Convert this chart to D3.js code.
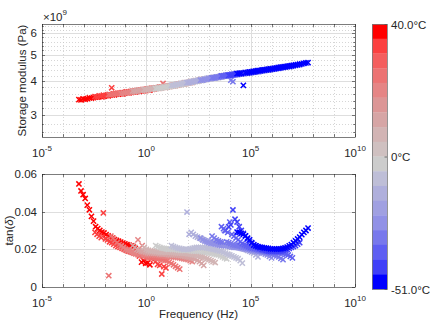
<!DOCTYPE html>
<html><head><meta charset="utf-8">
<script src="https://cdn.jsdelivr.net/npm/d3@7"></script>
<style>
body{margin:0;background:#fff}
svg{display:block}
text{font-family:"Liberation Sans",Arial,Helvetica,sans-serif;fill:#262626}
</style>
</head><body><svg id="c" width="433" height="330"></svg>
<script>
// ---------------- DATA ----------------
// temperatures of each frequency sweep (°C)
const temps = [40, 33, 26, 19, 12, 5, -2, -9, -16, -23, -30, -37, -44, -51];
// horizontal shift (log10 aT) of each sweep
const logShift = [-1.53, -0.76, -0.1, 0.5, 1.05, 1.6, 2.15, 2.9, 3.65, 4.3, 4.85, 5.3, 5.65, 6.05];
// measured frequencies of one sweep (log10 Hz)
const baseLogFreq = [-1.7,-1.6,-1.5,-1.4,-1.3,-1.2,-1.1,-1.0,-0.9,-0.8,-0.7,-0.6,-0.5,-0.4,-0.3,-0.2,-0.1,0.0,
                     0.1,0.2,0.3,0.4,0.5,0.6,0.7,0.8,0.9,1.0,1.1,1.2,1.3,1.4,1.5,1.6,1.7];

// storage modulus (x 1e9 Pa), one array per temperature
const E_40  = [3.43,3.42,3.45,3.44,3.46,3.48,3.47,3.49,3.50,3.50,3.52,3.51,3.53,3.55,3.54,3.56,3.57,3.57,3.59,3.59,3.61,3.60,3.62,3.64,3.63,3.65,3.66,3.66,3.68,3.68,3.70,3.70,3.71,3.73,3.72];
const E_33  = [3.52,3.51,3.54,3.54,3.56,3.55,3.57,3.58,3.79,3.60,3.60,3.62,3.62,3.64,3.64,3.66,3.66,3.67,3.69,3.68,3.70,3.71,3.71,3.73,3.73,3.75,3.75,3.77,3.77,3.79,3.79,3.81,3.81,3.83,3.83];
const E_26  = [3.58,3.57,3.59,3.60,3.60,3.62,3.62,3.63,3.65,3.64,3.66,3.67,3.67,3.69,3.69,3.71,3.71,3.72,3.74,3.73,3.75,3.77,3.76,3.78,3.79,3.80,3.93,3.82,3.83,3.85,3.85,3.87,3.88,3.89,3.91];
const E_19  = [3.60,3.62,3.62,3.64,3.65,3.65,3.67,3.67,3.68,3.70,3.70,3.71,3.71,3.73,3.74,3.74,3.76,3.77,3.77,3.79,3.80,3.80,3.82,3.83,3.84,3.86,3.86,3.88,3.89,3.91,3.91,3.93,3.95,3.96,3.97];
const E_12  = [3.69,3.68,3.70,3.72,3.71,3.73,3.74,3.74,3.76,3.77,3.77,3.79,3.79,3.81,3.81,3.83,3.84,3.85,3.86,3.88,3.88,3.90,3.91,3.93,3.93,3.96,3.96,3.98,4.00,4.00,4.03,4.03,4.05,4.07,4.08];
const E_5   = [3.73,3.72,3.74,3.76,3.75,3.78,3.77,3.80,3.79,3.81,3.83,3.82,3.85,3.85,3.87,3.87,3.90,3.90,3.92,3.93,3.95,3.95,3.98,3.98,4.00,4.02,4.02,4.05,4.05,4.07,4.09,4.10,4.11,4.13,4.13];
const E_m2  = [3.76,3.78,3.77,3.79,3.81,3.80,3.83,3.83,3.85,3.85,3.88,3.88,3.90,3.91,3.92,3.95,3.95,3.97,3.98,4.00,4.00,4.03,4.03,4.06,4.06,4.08,4.09,4.11,4.11,4.13,4.13,4.16,4.16,4.18,4.18];
const E_m9  = [3.87,3.87,3.89,3.91,3.91,3.93,3.95,3.95,3.97,3.99,3.99,4.02,4.02,4.04,4.06,4.06,4.08,4.10,4.11,4.12,4.14,4.14,4.16,4.17,4.18,4.20,4.20,4.22,4.23,4.24,4.25,4.26,4.27,4.28,4.29];
const E_m16 = [3.96,3.96,3.98,4.00,4.00,4.03,4.03,4.06,4.06,4.08,4.10,4.10,4.12,4.13,4.14,4.16,4.16,4.18,4.19,4.20,4.22,4.22,4.24,4.24,4.26,4.26,4.28,4.28,4.30,4.30,4.32,4.32,4.34,4.35,4.36];
const E_m23 = [4.04,4.04,4.07,4.07,4.10,4.10,4.12,4.12,4.14,4.15,4.16,4.18,4.18,4.20,4.21,4.22,4.23,4.24,4.25,4.26,4.27,4.28,4.29,4.30,4.31,4.33,4.33,4.35,4.35,4.37,4.38,4.39,4.41,4.41,4.43];
const E_m30 = [4.12,4.13,4.15,4.15,4.17,4.18,4.19,4.21,4.21,4.04,3.99,4.25,4.25,4.27,4.27,4.29,4.29,4.31,4.31,4.33,4.34,4.35,4.37,4.37,4.39,4.40,4.41,4.43,4.43,4.45,4.46,4.47,4.49,4.49,4.51];
const E_m37 = [4.19,4.19,4.21,4.22,4.23,4.25,4.25,4.27,4.27,4.29,4.29,4.31,4.31,4.33,4.33,4.35,4.35,4.37,4.38,4.39,4.41,4.41,4.43,4.44,4.45,4.47,4.47,4.49,4.50,4.51,4.53,4.53,4.55,4.56,4.57];
const E_m44 = [4.21,4.22,4.23,4.24,4.25,4.26,4.27,4.28,4.29,4.30,4.31,4.32,4.33,4.35,4.35,4.37,4.38,4.39,4.41,4.41,4.43,4.44,4.45,4.47,4.47,4.49,4.50,4.51,4.53,4.53,4.55,4.57,4.58,4.60,4.61];
const E_m51 = [4.27,4.28,4.28,3.87,4.31,4.31,4.33,4.34,4.35,4.36,4.38,4.38,4.40,4.41,4.42,4.43,4.45,4.45,4.47,4.48,4.49,4.51,4.51,4.53,4.54,4.55,4.57,4.58,4.60,4.61,4.63,4.64,4.66,4.68,4.69];

// tan(delta), one array per temperature
const tan_40  = [0.0547,0.051,0.049,0.047,0.0435,0.041,0.0375,0.035,0.032,0.031,0.030,0.0292,0.0287,0.0278,0.0271,0.0265,0.026,0.0252,0.0247,0.0243,0.0238,0.0233,0.0229,0.0225,0.0222,0.0218,0.0212,0.0205,0.019,0.0165,0.0132,0.014,0.0125,0.0128,0.0118];
const tan_33  = [0.029,0.028,0.027,0.0262,0.0393,0.0255,0.025,0.024,0.0235,0.0228,0.022,0.0215,0.021,0.0205,0.020,0.0195,0.019,0.0188,0.0185,0.0182,0.018,0.0178,0.0175,0.0172,0.017,0.0165,0.016,0.0152,0.0145,0.0135,0.012,0.0115,0.0069,0.0108,0.0101];
const tan_26  = [0.006,0.027,0.026,0.0248,0.0235,0.0225,0.0215,0.0208,0.020,0.0195,0.019,0.0185,0.018,0.0176,0.0172,0.0168,0.0165,0.0162,0.016,0.0159,0.0158,0.0156,0.0155,0.0152,0.015,0.0148,0.0145,0.0142,0.014,0.0132,0.0125,0.0118,0.011,0.0102,0.0095];
const tan_19  = [0.022,0.021,0.020,0.0195,0.019,0.0185,0.018,0.0178,0.025,0.0176,0.022,0.0172,0.017,0.0173,0.0172,0.0171,0.017,0.0169,0.0168,0.0166,0.0165,0.0164,0.0163,0.0161,0.016,0.0159,0.0158,0.0156,0.0155,0.0152,0.015,0.0148,0.0145,0.014,0.0135];
const tan_12  = [0.022,0.021,0.020,0.0195,0.019,0.0188,0.0185,0.0182,0.018,0.0181,0.018,0.0179,0.0178,0.0176,0.0175,0.0176,0.0175,0.0172,0.017,0.0171,0.017,0.0169,0.0168,0.0166,0.0165,0.0162,0.016,0.0158,0.0155,0.0153,0.015,0.0142,0.0135,0.0125,0.0115];
const tan_5   = [0.021,0.020,0.0195,0.0192,0.019,0.0189,0.0188,0.0186,0.0185,0.0186,0.0185,0.0184,0.0185,0.0184,0.0183,0.0181,0.018,0.0181,0.018,0.0179,0.0178,0.0176,0.0175,0.0172,0.017,0.0168,0.0165,0.0162,0.016,0.0155,0.015,0.0145,0.014,0.0135,0.013];
const tan_m2  = [0.022,0.0215,0.021,0.0207,0.0205,0.0202,0.020,0.0201,0.020,0.0199,0.0198,0.0196,0.0195,0.0196,0.0195,0.0194,0.0195,0.0192,0.019,0.0191,0.019,0.0189,0.0188,0.0186,0.0185,0.0182,0.018,0.0178,0.0175,0.0172,0.017,0.0165,0.016,0.0155,0.015];
const tan_m9  = [0.022,0.0215,0.021,0.0207,0.0205,0.0202,0.020,0.0201,0.020,0.0203,0.0205,0.0208,0.021,0.0211,0.021,0.0209,0.021,0.0208,0.0205,0.0203,0.020,0.0198,0.0195,0.0192,0.019,0.0185,0.018,0.0175,0.017,0.0165,0.016,0.0155,0.015,0.014,0.0127];
const tan_m16 = [0.0398,0.028,0.029,0.028,0.027,0.0265,0.026,0.0255,0.025,0.0245,0.024,0.0238,0.0235,0.0232,0.023,0.0228,0.0225,0.0222,0.022,0.0221,0.022,0.0218,0.0215,0.0212,0.021,0.0208,0.0205,0.0202,0.020,0.0195,0.019,0.0185,0.018,0.017,0.016];
const tan_m23 = [0.026,0.025,0.0245,0.024,0.0235,0.0232,0.023,0.0228,0.0225,0.0222,0.022,0.0221,0.022,0.0218,0.0215,0.0212,0.021,0.0211,0.021,0.0208,0.0205,0.0202,0.020,0.0198,0.0195,0.0192,0.019,0.0188,0.0185,0.0182,0.018,0.0175,0.017,0.0162,0.0155];
const tan_m30 = [0.027,0.026,0.025,0.0245,0.024,0.0238,0.030,0.024,0.0235,0.023,0.0225,0.0222,0.022,0.0218,0.0215,0.0212,0.021,0.0208,0.0205,0.0202,0.020,0.0198,0.0195,0.0192,0.019,0.0188,0.0185,0.0182,0.018,0.0175,0.017,0.0165,0.016,0.0152,0.0145];
const tan_m37 = [0.032,0.031,0.030,0.029,0.0345,0.028,0.027,0.026,0.025,0.024,0.023,0.0225,0.022,0.0215,0.021,0.0208,0.0205,0.0202,0.020,0.0198,0.0195,0.0192,0.019,0.0188,0.0185,0.0186,0.0185,0.0184,0.0185,0.0182,0.018,0.0175,0.017,0.0162,0.0155];
const tan_m44 = [0.0319,0.033,0.0409,0.036,0.0345,0.032,0.030,0.0285,0.027,0.0255,0.024,0.023,0.0225,0.0218,0.021,0.0205,0.020,0.0198,0.0195,0.0192,0.019,0.019,0.019,0.019,0.019,0.0192,0.0195,0.0198,0.020,0.0205,0.021,0.0215,0.022,0.0228,0.0235];
const tan_m51 = [0.0292,0.029,0.0285,0.028,0.0272,0.026,0.025,0.0235,0.0222,0.0218,0.0215,0.0212,0.021,0.0208,0.0207,0.0205,0.0203,0.0202,0.0202,0.0201,0.0202,0.0203,0.0205,0.0208,0.0212,0.0218,0.0225,0.0235,0.0245,0.0255,0.0265,0.0278,0.029,0.030,0.0313];

// axis ticks / labels
const xLabelExponents = [-5, 0, 5, 10];
const yTopTicks = [3e9, 4e9, 5e9, 6e9];
const yTopTickLabels = ["3", "4", "5", "6"];
const yBotTicks = [0, 0.02, 0.04, 0.06];
const yBotTickLabels = ["0", "0.02", "0.04", "0.06"];
// colormap (top = hot -> bottom = cold)
const colorbarColors = ["#ff0000","#fb4040","#f45e5e","#ec7373","#e58585","#dc9696","#d6a5a5","#d2b4b4","#cfc0c0",
                        "#cccccc","#bebed7","#afafdc","#a0a0e1","#9191e6","#7878ec","#5f5ff2","#4040f8","#0000ff"];
const colorbarLabels = ["40.0°C", "0°C", "-51.0°C"];
const tempMin = -51, tempMax = 40;

const storageSeries = [E_40,E_33,E_26,E_19,E_12,E_5,E_m2,E_m9,E_m16,E_m23,E_m30,E_m37,E_m44,E_m51];
const tanSeries = [tan_40,tan_33,tan_26,tan_19,tan_12,tan_5,tan_m2,tan_m9,tan_m16,tan_m23,tan_m30,tan_m37,tan_m44,tan_m51];

// ---------------- LAYOUT ----------------
const svg = d3.select('#c');
const X0 = 42, X1 = 355;
const P1 = {t: 24, b: 137}, P2 = {t: 174, b: 287};
const x = d3.scaleLog().domain([1e-5, 1e10]).range([X0, X1]);
const yTop = d3.scaleLog().domain([2.5e9, 6.5e9]).range([P1.b, P1.t]);
const yBot = d3.scaleLinear().domain([0, 0.06]).range([P2.b, P2.t]);

const hotScale = d3.scaleQuantize().domain([0, tempMax]).range(colorbarColors.slice(0, 9).reverse());
const coldScale = d3.scaleQuantize().domain([tempMin, 0]).range(colorbarColors.slice(9).reverse());
const colorOf = t => t >= 0 ? hotScale(t) : coldScale(t);

const gridMajor = "#dedede", gridMinor = "#c4c4c4", axisCol = "#262626";
const decades = d3.range(-5, 11);

function gridLines(g, y, top, bot, yMajor, yMinor) {
  decades.forEach(e => {
    const px = Math.round(x(Math.pow(10, e))) + 0.5;
    const major = xLabelExponents.includes(e);
    g.append("line").attr("x1", px).attr("x2", px).attr("y1", top).attr("y2", bot)
      .attr("stroke", major ? gridMajor : gridMinor).attr("stroke-width", major ? 1 : 0.7)
      .attr("stroke-dasharray", major ? null : "1,2");
  });
  yMinor.forEach(v => {
    const py = Math.round(y(v)) + 0.5;
    g.append("line").attr("x1", X0).attr("x2", X1).attr("y1", py).attr("y2", py)
      .attr("stroke", gridMinor).attr("stroke-width", 0.7).attr("stroke-dasharray", "1,2");
  });
  yMajor.forEach(v => {
    const py = Math.round(y(v)) + 0.5;
    g.append("line").attr("x1", X0).attr("x2", X1).attr("y1", py).attr("y2", py)
      .attr("stroke", gridMajor).attr("stroke-width", 1);
  });
}

function frameAndTicks(g, y, top, bot, yMajor, yMinor) {
  g.append("rect").attr("x", X0 + 0.5).attr("y", top + 0.5).attr("width", X1 - X0).attr("height", bot - top)
    .attr("fill", "none").attr("stroke", axisCol).attr("stroke-width", 0.6);
  decades.forEach(e => {
    const px = Math.round(x(Math.pow(10, e))) + 0.5;
    g.append("line").attr("x1", px).attr("x2", px).attr("y1", bot).attr("y2", bot - 3).attr("stroke", axisCol).attr("stroke-width", 0.6);
    g.append("line").attr("x1", px).attr("x2", px).attr("y1", top).attr("y2", top + 3).attr("stroke", axisCol).attr("stroke-width", 0.6);
  });
  yMajor.forEach(v => {
    const py = Math.round(y(v)) + 0.5;
    g.append("line").attr("x1", X0).attr("x2", X0 + 3).attr("y1", py).attr("y2", py).attr("stroke", axisCol).attr("stroke-width", 0.6);
    g.append("line").attr("x1", X1).attr("x2", X1 - 3).attr("y1", py).attr("y2", py).attr("stroke", axisCol).attr("stroke-width", 0.6);
  });
  yMinor.forEach(v => {
    const py = Math.round(y(v)) + 0.5;
    g.append("line").attr("x1", X0).attr("x2", X0 + 1.8).attr("y1", py).attr("y2", py).attr("stroke", axisCol).attr("stroke-width", 0.6);
    g.append("line").attr("x1", X1).attr("x2", X1 - 1.8).attr("y1", py).attr("y2", py).attr("stroke", axisCol).attr("stroke-width", 0.6);
  });
  xLabelExponents.forEach(e => {
    const t = g.append("text").attr("x", x(Math.pow(10, e))).attr("y", bot + 20)
      .attr("text-anchor", "middle").attr("font-size", 11.5);
    t.append("tspan").text("10");
    t.append("tspan").text(String(e)).attr("font-size", 8).attr("dy", -6);
  });
}

function drawPoints(g, y, seriesVals) {
  const pts = [];
  temps.forEach((T, i) => {
    baseLogFreq.forEach((lf, j) => {
      pts.push({f: Math.pow(10, lf + logShift[i]), v: seriesVals[i][j], c: colorOf(T)});
    });
  });
  const r = 2.6;
  g.selectAll("path.pt").data(pts).join("path").attr("class", "pt")
    .attr("d", `M${-r},${-r}L${r},${r}M${-r},${r}L${r},${-r}`)
    .attr("transform", d => `translate(${x(d.f)},${y(d.v)})`)
    .attr("stroke", d => d.c).attr("stroke-width", 1.5).attr("fill", "none");
}

// ---- top panel ----
const topMinor = d3.range(26, 66, 2).map(v => v * 1e8).filter(v => v % 1e9 !== 0);
const g1 = svg.append("g");
gridLines(g1, yTop, P1.t, P1.b, yTopTicks, topMinor);
drawPoints(g1.append("g"), v => yTop(v * 1e9), storageSeries);
frameAndTicks(g1, yTop, P1.t, P1.b, yTopTicks, topMinor);
yTopTicks.forEach((v, i) => {
  g1.append("text").attr("x", 37).attr("y", yTop(v) + 4).attr("text-anchor", "end").attr("font-size", 11.5).text(yTopTickLabels[i]);
});
const ex = g1.append("text").attr("x", 43).attr("y", 20.5).attr("font-size", 11.5);
ex.append("tspan").text("×10");
ex.append("tspan").text("9").attr("font-size", 8).attr("dy", -6);
g1.append("text").attr("transform", `translate(25.5,${(P1.t + P1.b) / 2}) rotate(-90)`)
  .attr("text-anchor", "middle").attr("font-size", 11.5).text("Storage modulus (Pa)");

// ---- bottom panel ----
const g2 = svg.append("g");
gridLines(g2, yBot, P2.t, P2.b, [0.02, 0.04], []);
drawPoints(g2.append("g"), yBot, tanSeries);
frameAndTicks(g2, yBot, P2.t, P2.b, yBotTicks, []);
yBotTicks.forEach((v, i) => {
  g2.append("text").attr("x", 37).attr("y", yBot(v) + 4).attr("text-anchor", "end").attr("font-size", 11.5).text(yBotTickLabels[i]);
});
const tl = g2.append("text").attr("transform", `translate(12.5,${(P2.t + P2.b) / 2}) rotate(-90)`)
  .attr("text-anchor", "middle").attr("font-size", 11.5);
tl.append("tspan").text("tan(");
tl.append("tspan").text("δ").attr("font-style", "italic");
tl.append("tspan").text(")");
g2.append("text").attr("x", (X0 + X1) / 2).attr("y", 318).attr("text-anchor", "middle").attr("font-size", 11.5).text("Frequency (Hz)");

// ---- colorbar ----
const CB = {x: 372, w: 15, t: 24, b: 289};
const cbY = d3.scaleBand().domain(d3.range(colorbarColors.length)).range([CB.t, CB.b]);
const gc = svg.append("g");
gc.selectAll("rect.cb").data(colorbarColors).join("rect").attr("class", "cb")
  .attr("x", CB.x).attr("y", (d, i) => cbY(i)).attr("width", CB.w).attr("height", cbY.bandwidth() + 0.3)
  .attr("fill", d => d);
gc.append("rect").attr("x", CB.x + 0.5).attr("y", CB.t + 0.5).attr("width", CB.w).attr("height", CB.b - CB.t)
  .attr("fill", "none").attr("stroke", "#7a7a7a").attr("stroke-width", 0.8);
const cbLabelY = [CB.t, (CB.t + CB.b) / 2, CB.b];
cbLabelY.forEach((py, i) => {
  gc.append("line").attr("x1", CB.x + CB.w).attr("x2", CB.x + CB.w - 2.5).attr("y1", py + 0.5).attr("y2", py + 0.5)
    .attr("stroke", "#555").attr("stroke-width", 0.8);
  gc.append("text").attr("x", CB.x + CB.w + 4).attr("y", py + 4.5).attr("font-size", 11.5).text(colorbarLabels[i]);
});
</script>
</body></html>
